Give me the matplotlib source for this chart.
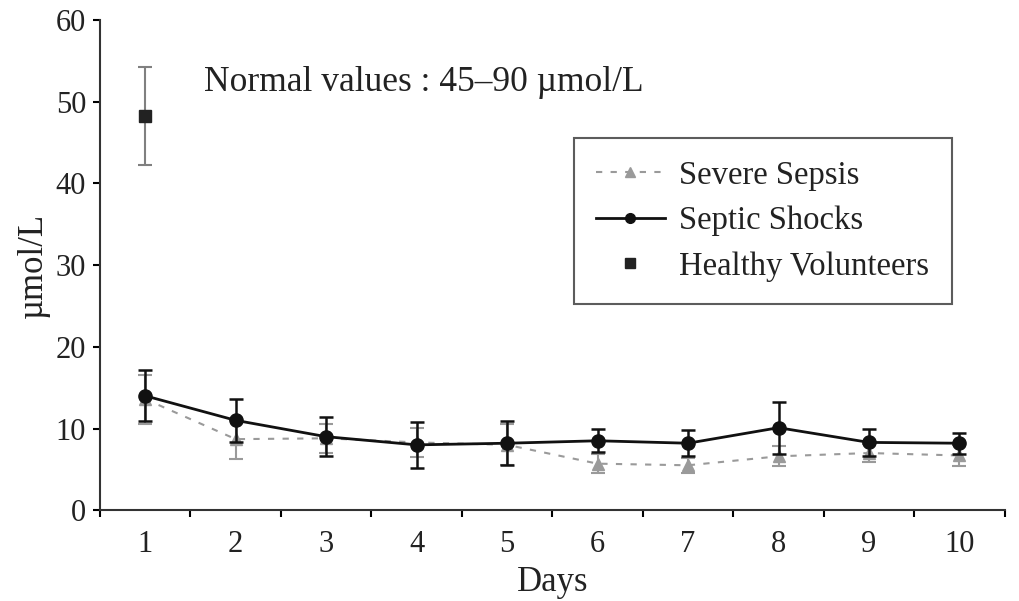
import matplotlib.pyplot as plt
from matplotlib.lines import Line2D
from matplotlib.ticker import FixedLocator

days = [1, 2, 3, 4, 5, 6, 7, 8, 9, 10]

sepsis_mean = [13.6, 8.7, 8.8, 8.3, 8.0, 5.7, 5.5, 6.6, 7.0, 6.7]
sepsis_err = [3.0, 2.4, 1.8, 1.8, 2.5, 1.2, 0.9, 1.2, 1.1, 1.3]

shock_mean = [14.0, 11.0, 9.0, 8.0, 8.2, 8.5, 8.2, 10.1, 8.3, 8.2]
shock_err = [3.1, 2.6, 2.4, 2.8, 2.7, 1.4, 1.6, 3.2, 1.7, 1.3]

healthy_day = [1]
healthy_mean = [48.2]
healthy_err = [6.0]

plt.rcParams['font.family'] = ['Liberation Serif', 'DejaVu Serif']

fig = plt.figure(figsize=(10.2, 6.01), dpi=100)
ax = fig.add_axes([0.098, 0.151, 0.887, 0.816])

grey = '#9a9a9a'
ink = '#222222'
ax.errorbar(days, sepsis_mean, yerr=sepsis_err, color=grey, ls=(0, (3, 4)), lw=1.5,
            marker='^', ms=8, capsize=5, capthick=1.5, elinewidth=1.5, zorder=2)
ax.errorbar(days, shock_mean, yerr=shock_err, color='#111111', ls='-', lw=2,
            marker='o', ms=9.5, capsize=5, capthick=1.8, elinewidth=1.8, zorder=3)
ax.errorbar(healthy_day, healthy_mean, yerr=healthy_err, color=ink, ls='none',
            marker='s', ms=8, capsize=5, capthick=1.5, elinewidth=1.5,
            ecolor='#808080', zorder=3)

ax.text(1.65, 52.3, 'Normal values : 45\u201390 \u00b5mol/L', fontsize=25.5,
        color=ink, va='center')

ax.set_xlim(0.5, 10.5)
ax.set_ylim(0, 60)
ax.set_xticks(days)
ax.set_xticklabels([str(d) for d in days])
ax.xaxis.set_minor_locator(FixedLocator([d - 0.5 for d in days] + [10.5]))
ax.tick_params(axis='x', which='major', length=0, pad=14, labelsize=22, labelcolor=ink)
ax.tick_params(axis='x', which='minor', length=5, width=1.5, direction='out')
ax.set_yticks(range(0, 61, 10))
ax.tick_params(axis='y', length=5, width=1.5, pad=5, labelsize=22, labelcolor=ink,
               direction='out')
ax.spines['top'].set_visible(False)
ax.spines['right'].set_visible(False)
ax.spines['left'].set_linewidth(1.5)
ax.spines['bottom'].set_linewidth(1.5)
ax.spines['left'].set_color('#333333')
ax.spines['bottom'].set_color('#333333')
ax.set_xlabel('Days', fontsize=25, labelpad=5, color=ink)
ax.set_ylabel('\u00b5mol/L', fontsize=25, labelpad=4, color=ink)

handles = [
    Line2D([], [], color=grey, ls=(0, (3, 4)), lw=1.5, marker='^', ms=7),
    Line2D([], [], color='#111111', ls='-', lw=2, marker='o', ms=7),
    Line2D([], [], color=ink, ls='none', marker='s', ms=7),
]
labels = ['Severe Sepsis', 'Septic Shocks', 'Healthy Volunteers']
leg = ax.legend(handles, labels, loc='upper left',
                bbox_to_anchor=(574 / 1020, 1 - 138 / 601), bbox_transform=fig.transFigure,
                borderaxespad=0, fontsize=23.5, frameon=True, fancybox=False,
                edgecolor='#333333', borderpad=0.68, labelspacing=0.46,
                handlelength=2.1, handletextpad=0.45, labelcolor=ink)
leg.get_frame().set_linewidth(1.5)

fig.savefig('out.png', dpi=100)
